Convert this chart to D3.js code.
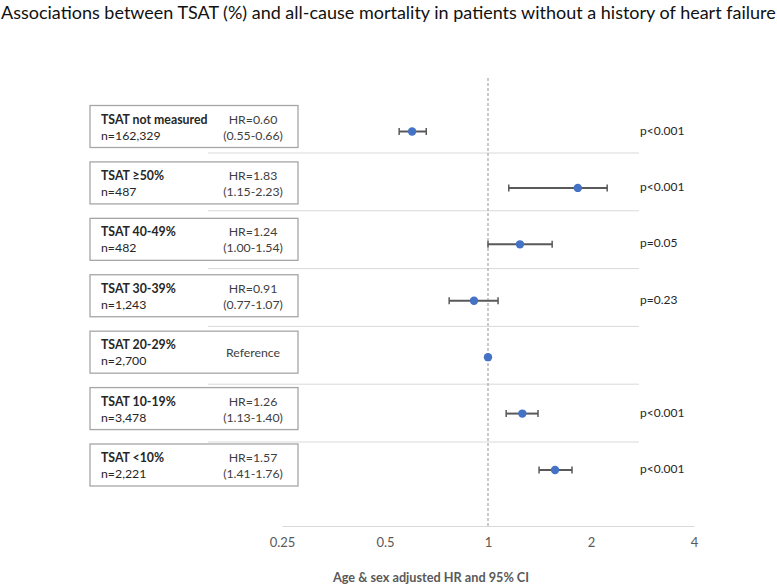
<!DOCTYPE html>
<html><head><meta charset="utf-8">
<script src="https://cdn.jsdelivr.net/npm/d3@7"></script>
<style>body{margin:0;background:#fff}svg{display:block}</style>
</head><body><svg id="c" width="777" height="584"></svg>
<script>
const categories = ["TSAT not measured","TSAT ≥50%","TSAT 40-49%","TSAT 30-39%","TSAT 20-29%","TSAT 10-19%","TSAT <10%"];
const nLabels = ["n=162,329","n=487","n=482","n=1,243","n=2,700","n=3,478","n=2,221"];
const hr = [0.60,1.83,1.24,0.91,1.00,1.26,1.57];
const lower = [0.55,1.15,1.00,0.77,null,1.13,1.41];
const upper = [0.66,2.23,1.54,1.07,null,1.40,1.76];
const hrLabels = ["HR=0.60","HR=1.83","HR=1.24","HR=0.91","Reference","HR=1.26","HR=1.57"];
const ciLabels = ["(0.55-0.66)","(1.15-2.23)","(1.00-1.54)","(0.77-1.07)","","(1.13-1.40)","(1.41-1.76)"];
const pLabels = ["p<0.001","p<0.001","p=0.05","p=0.23","","p<0.001","p<0.001"];
const tickValues = [0.25,0.5,1,2,4];
const tickLabels = ["0.25","0.5","1","2","4"];
const titleText = "Associations between TSAT (%) and all-cause mortality in patients without a history of heart failure";
const axisTitle = "Age & sex adjusted HR and 95% CI";

const svg = d3.select("#c");
const font = "Lato, 'Open Sans', sans-serif";
const x = d3.scaleLog().base(2).domain([0.25,4]).range([282,694]);
const y = d3.scalePoint().domain(categories).range([131.5,470]);
const sepY = d3.scaleLinear().domain([0,5]).range([153,442]);

// title
const t = svg.append("text").attr("x",1).attr("y",19).attr("font-family",font)
  .attr("font-size",17).attr("fill","#111").text(titleText);
const tw = t.node().getComputedTextLength();
t.attr("font-size", 17*775/tw);

// separators
svg.append("g").selectAll("line").data(d3.range(6)).join("line")
  .attr("x1",208).attr("x2",639).attr("y1",d=>sepY(d)).attr("y2",d=>sepY(d))
  .attr("stroke","#d9d9d9").attr("stroke-width",1);

// reference line
svg.append("line").attr("x1",x(1)).attr("x2",x(1)).attr("y1",78).attr("y2",526)
  .attr("stroke","#a6a6a6").attr("stroke-width",1.2).attr("stroke-dasharray","3,2");

// axis
const axis = d3.axisBottom(x).tickValues(tickValues).tickFormat((d,i)=>tickLabels[i]).tickSize(0).tickPadding(12);
const ag = svg.append("g").attr("transform","translate(0,526)").call(axis);
ag.select(".domain").attr("stroke","#d9d9d9").attr("stroke-width",1.2);
ag.selectAll("text").attr("font-family",font).attr("font-size",13).attr("fill","#595959");
svg.append("text").attr("x",431).attr("y",582).attr("text-anchor","middle")
  .attr("font-family",font).attr("font-weight","bold").attr("font-size",12.7).attr("fill","#595959").text(axisTitle);

// boxes
const boxes = svg.append("g").selectAll("g").data(categories).join("g")
  .attr("transform",d=>`translate(0,${y(d)-5})`);
boxes.append("rect").attr("x",90).attr("y",-21).attr("width",208).attr("height",42)
  .attr("fill","#fff").attr("stroke","#a6a6a6").attr("stroke-width",1.3);
boxes.append("text").attr("x",101).attr("y",-3).attr("font-family",font).attr("font-weight","bold")
  .attr("font-size",12.3).attr("fill","#262626").text(d=>d);
boxes.append("text").attr("x",101).attr("y",13).attr("font-family",font)
  .attr("font-size",12.3).attr("fill","#262626").text((d,i)=>nLabels[i]);
boxes.append("text").attr("x",253).attr("y",(d,i)=>ciLabels[i]?-3:5).attr("text-anchor","middle").attr("font-family",font)
  .attr("font-size",12.3).attr("fill","#404040").text((d,i)=>hrLabels[i]);
boxes.append("text").attr("x",253).attr("y",13).attr("text-anchor","middle").attr("font-family",font)
  .attr("font-size",12.3).attr("fill","#404040").text((d,i)=>ciLabels[i]);

// error bars
const rows = categories.map((c,i)=>({c,hr:hr[i],lo:lower[i],hi:upper[i],p:pLabels[i]}));
const eb = svg.append("g").selectAll("g").data(rows.filter(r=>r.lo!=null)).join("g");
eb.append("line").attr("x1",d=>x(d.lo)).attr("x2",d=>x(d.hi)).attr("y1",d=>y(d.c)).attr("y2",d=>y(d.c))
  .attr("stroke","#595959").attr("stroke-width",2);
eb.append("line").attr("x1",d=>x(d.lo)).attr("x2",d=>x(d.lo)).attr("y1",d=>y(d.c)-3.5).attr("y2",d=>y(d.c)+3.5)
  .attr("stroke","#595959").attr("stroke-width",1.5);
eb.append("line").attr("x1",d=>x(d.hi)).attr("x2",d=>x(d.hi)).attr("y1",d=>y(d.c)-3.5).attr("y2",d=>y(d.c)+3.5)
  .attr("stroke","#595959").attr("stroke-width",1.5);
svg.append("g").selectAll("circle").data(rows).join("circle")
  .attr("cx",d=>x(d.hr)).attr("cy",d=>y(d.c)).attr("r",4.2).attr("fill","#4472C4");

// p values
svg.append("g").selectAll("text").data(rows).join("text")
  .attr("x",640).attr("y",d=>y(d.c)+3).attr("font-family",font).attr("font-size",12).attr("fill","#262626")
  .text(d=>d.p);
</script></body></html>
